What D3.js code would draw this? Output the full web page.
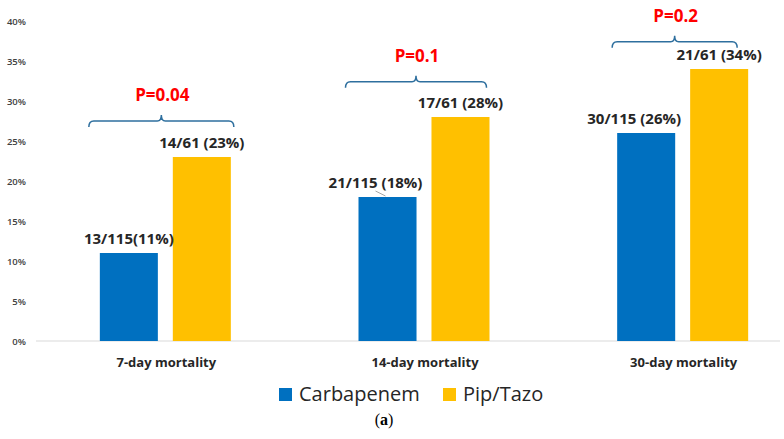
<!DOCTYPE html>
<html>
<head>
<meta charset="utf-8">
<script src="https://cdnjs.cloudflare.com/ajax/libs/d3/7.8.5/d3.min.js"></script>
<style>
  body { margin: 0; background: #fff; }
  svg { display: block; }
</style>
</head>
<body>
<div id="chart"></div>
<script>
// chart values
var categories = ['7-day mortality', '14-day mortality', '30-day mortality'];
var groups = ['Carbapenem', 'Pip/Tazo'];
var carbapenem = [0.11, 0.18, 0.26];
var pipTazo = [0.23, 0.28, 0.34];
var carbLabels = ['13/115(11%)', '21/115 (18%)', '30/115 (26%)'];
var pipLabels = ['14/61 (23%)', '17/61 (28%)', '21/61 (34%)'];
var pValues = ['P=0.04', 'P=0.1', 'P=0.2'];
var bracketLevel = [0.275, 0.324, 0.374];
var yTicks = [0, 0.05, 0.1, 0.15, 0.2, 0.25, 0.3, 0.35, 0.4];

var colorMap = {'Carbapenem': '#0070C0', 'Pip/Tazo': '#FFC000'};

var width = 784, height = 439;
var svg = d3.select('#chart').append('svg')
    .attr('width', width)
    .attr('height', height);

var x0 = d3.scaleBand()
    .domain(categories)
    .range([36, 812])
    .paddingInner(0)
    .paddingOuter(0);

var x1 = d3.scaleBand()
    .domain(groups)
    .range([0, 131])
    .paddingInner(0.205);

var y = d3.scaleLinear()
    .domain([0, 0.4])
    .range([341, 21]);

var dataset = [];
categories.forEach(function (c, i) {
    dataset.push({x: c, i: i, group: 'Carbapenem', value: carbapenem[i], label: carbLabels[i]});
    dataset.push({x: c, i: i, group: 'Pip/Tazo', value: pipTazo[i], label: pipLabels[i]});
});

function barX(d) {
    return x0(d.x) + x0.bandwidth() / 2 - 131 / 2 + x1(d.group);
}

// y axis labels
var yAxis = d3.axisLeft(y)
    .tickValues(yTicks)
    .tickFormat(d3.format('.0%'))
    .tickSize(0)
    .tickPadding(0);

var yG = svg.append('g')
    .attr('transform', 'translate(26,0)')
    .call(yAxis);
yG.select('.domain').remove();
yG.selectAll('text')
    .style('font-family', 'Open Sans, sans-serif')
    .style('font-size', '9.5px')
    .style('font-weight', 600)
    .style('fill', '#404040');

// baseline
svg.append('line')
    .attr('x1', 36)
    .attr('x2', 780)
    .attr('y1', y(0))
    .attr('y2', y(0))
    .style('stroke', '#d9d9d9')
    .style('stroke-width', 1);

// bars
svg.selectAll('rect.bar')
    .data(dataset)
    .enter().append('rect')
    .attr('class', 'bar')
    .attr('x', barX)
    .attr('width', x1.bandwidth())
    .attr('y', function (d) { return y(d.value); })
    .attr('height', function (d) { return y(0) - y(d.value); })
    .style('fill', function (d) { return colorMap[d.group]; });

// value labels
var labelShift = [0, -12, -12];
svg.selectAll('text.val')
    .data(dataset)
    .enter().append('text')
    .attr('class', 'val')
    .attr('x', function (d) {
        var cx = barX(d) + x1.bandwidth() / 2;
        return d.group === 'Carbapenem' ? cx + labelShift[d.i] : cx;
    })
    .attr('y', function (d) { return y(d.value) - 9; })
    .attr('text-anchor', 'middle')
    .style('font-family', 'Open Sans, sans-serif')
    .style('font-size', '15px')
    .style('font-weight', 700)
    .style('fill', '#262626')
    .text(function (d) { return d.label; });

// leader line on the 14-day carbapenem label
var lead = dataset[2];
svg.append('line')
    .attr('x1', barX(lead) + x1.bandwidth() / 2 - 12)
    .attr('y1', y(lead.value) - 6)
    .attr('x2', barX(lead) + x1.bandwidth() / 2 - 2)
    .attr('y2', y(lead.value) - 1)
    .style('stroke', '#a6a6a6')
    .style('stroke-width', 1);

// brackets with p values
var bracketGroups = svg.selectAll('g.bracket')
    .data(categories)
    .enter().append('g')
    .attr('class', 'bracket');

var bracketEnds = [[-11, 3], [-13, -3], [-5, -11]];

bracketGroups.append('path')
    .attr('d', function (c, i) {
        var left = x0(c) + x0.bandwidth() / 2 - 131 / 2 + bracketEnds[i][0];
        var right = x0(c) + x0.bandwidth() / 2 + 131 / 2 + bracketEnds[i][1];
        var mid = (left + right) / 2;
        var by = y(bracketLevel[i]);
        return 'M' + left + ',' + (by + 6) +
            'Q' + left + ',' + by + ' ' + (left + 5) + ',' + by +
            'L' + (mid - 4) + ',' + by +
            'Q' + mid + ',' + by + ' ' + mid + ',' + (by - 6) +
            'Q' + mid + ',' + by + ' ' + (mid + 4) + ',' + by +
            'L' + (right - 5) + ',' + by +
            'Q' + right + ',' + by + ' ' + right + ',' + (by + 6);
    })
    .style('fill', 'none')
    .style('stroke', '#2E6F9E')
    .style('stroke-width', 1.5);

bracketGroups.append('text')
    .attr('x', function (c, i) {
        var left = x0(c) + x0.bandwidth() / 2 - 131 / 2 + bracketEnds[i][0];
        var right = x0(c) + x0.bandwidth() / 2 + 131 / 2 + bracketEnds[i][1];
        return (left + right) / 2 + 1;
    })
    .attr('y', function (c, i) { return y(bracketLevel[i]) - 20; })
    .attr('text-anchor', 'middle')
    .style('font-family', 'Open Sans, sans-serif')
    .style('font-size', '17px')
    .style('font-weight', 700)
    .style('fill', '#FF0000')
    .text(function (c, i) { return pValues[i]; });

// category labels
svg.selectAll('text.cat')
    .data(categories)
    .enter().append('text')
    .attr('class', 'cat')
    .attr('x', function (c) { return x0(c) + x0.bandwidth() / 2 + 1; })
    .attr('y', 367)
    .attr('text-anchor', 'middle')
    .style('font-family', 'Open Sans, sans-serif')
    .style('font-size', '13px')
    .style('font-weight', 700)
    .style('fill', '#262626')
    .text(function (c) { return c; });

// legend
var legendX = [279, 443];
var legend = svg.selectAll('g.legend')
    .data(groups)
    .enter().append('g')
    .attr('class', 'legend')
    .attr('transform', function (d, i) { return 'translate(' + legendX[i] + ',388)'; });

legend.append('rect')
    .attr('width', 13)
    .attr('height', 13)
    .style('fill', function (d) { return colorMap[d]; });

legend.append('text')
    .attr('x', 20)
    .attr('y', 13)
    .style('font-family', 'Open Sans, sans-serif')
    .style('font-size', '20px')
    .style('fill', '#262626')
    .text(function (d) { return d; });

// caption
var cap = svg.append('text')
    .attr('x', 384)
    .attr('y', 425)
    .attr('text-anchor', 'middle')
    .style('font-family', 'Liberation Serif, serif')
    .style('font-size', '16px')
    .style('fill', '#000');
cap.append('tspan').text('(');
cap.append('tspan').style('font-weight', 700).text('a');
cap.append('tspan').text(')');
</script>
</body>
</html>
